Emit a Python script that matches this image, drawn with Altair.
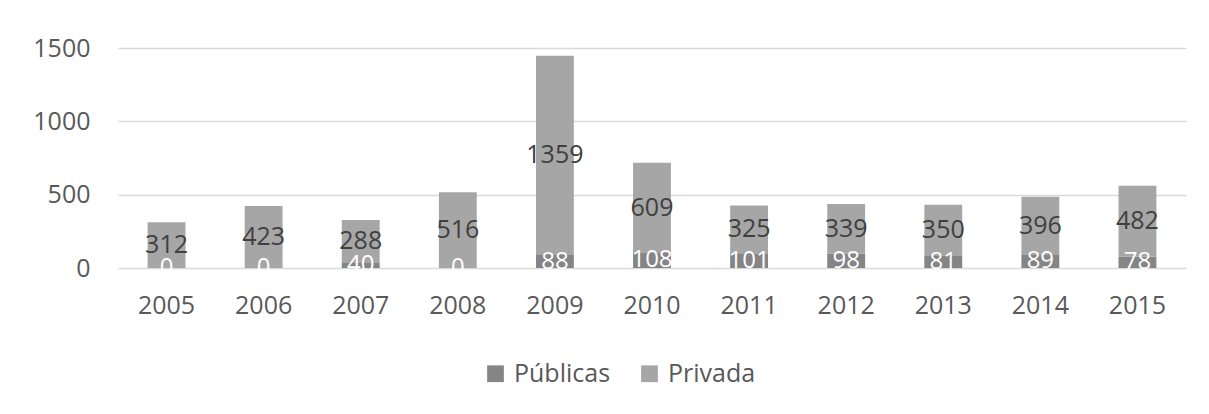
import altair as alt
import pandas as pd

years = ["2005", "2006", "2007", "2008", "2009", "2010", "2011", "2012", "2013", "2014", "2015"]
publicas = [0, 0, 40, 0, 88, 108, 101, 98, 81, 89, 78]
privada = [312, 423, 288, 516, 1359, 609, 325, 339, 350, 396, 482]
series = ["Públicas", "Privada"]
colors = ["#858585", "#a6a6a6"]
y_ticks = [0, 500, 1000, 1500]

rows = []
for i, y in enumerate(years):
    rows.append({"year": y, "serie": series[0], "value": publicas[i], "ord": 0})
    rows.append({"year": y, "serie": series[1], "value": privada[i], "ord": 1})
df = pd.DataFrame(rows)

FONT = "Open Sans"

xenc = alt.X(
    "year:N",
    sort=years,
    title=None,
    scale=alt.Scale(paddingInner=0.61, paddingOuter=0.305),
    axis=alt.Axis(labelAngle=0, ticks=False, domain=False, labelPadding=25,
                  labelFontSize=25, labelFont=FONT, labelColor="#595959"),
)

base = alt.Chart(df).transform_stack(
    stack="value", groupby=["year"], as_=["y0", "y1"],
    sort=[alt.SortField("ord", order="ascending")]
).transform_calculate(mid="(datum.y0 + datum.y1) / 2")

bars = base.mark_bar().encode(
    x=xenc,
    y=alt.Y("y0:Q", title=None,
            scale=alt.Scale(domain=[0, 1500], nice=False),
            axis=alt.Axis(values=y_ticks, format="d", ticks=False, domain=False, labelPadding=28,
                          gridColor="#d9d9d9", gridWidth=1.5,
                          labelFontSize=25, labelFont=FONT, labelColor="#595959")),
    y2="y1:Q",
    color=alt.Color("serie:N",
                    scale=alt.Scale(domain=series, range=colors),
                    legend=alt.Legend(title=None, orient="none", direction="horizontal",
                                      legendX=365, legendY=313,
                                      symbolType="square", symbolSize=280,
                                      symbolStrokeWidth=0, columnPadding=26,
                                      labelFontSize=25, labelFont=FONT, labelColor="#595959",
                                      labelOffset=6)),
)

txt_priv = base.transform_filter("datum.serie == 'Privada'").mark_text(
    font=FONT, fontSize=25, color="#404040", baseline="middle"
).encode(x=xenc, y=alt.Y("mid:Q"), text="value:Q")

txt_pub = base.transform_filter("datum.serie == 'Públicas'").mark_text(
    font=FONT, fontSize=24, color="#ffffff", baseline="middle"
).encode(x=xenc, y=alt.Y("mid:Q"), text="value:Q")

chart = alt.layer(bars, txt_priv, txt_pub).properties(
    width=1068, height=220,
    autosize=alt.AutoSizeParams(type="none"),
    padding={"left": 110, "top": 40, "right": 15, "bottom": 138},
    background="white",
).configure_view(stroke=None)

chart.save("out.html", embed_options={"renderer": "svg", "actions": False})
